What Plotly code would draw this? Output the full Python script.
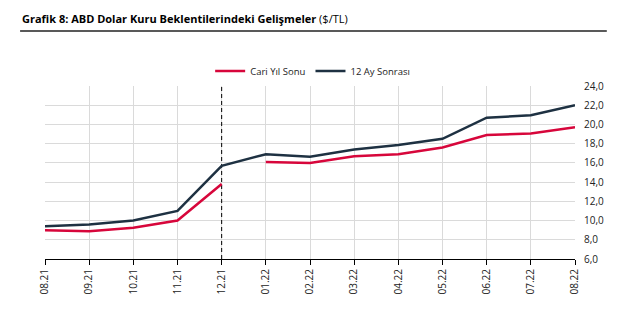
import plotly.graph_objects as go

months = ["08.21", "09.21", "10.21", "11.21", "12.21", "01.22", "02.22", "03.22",
          "04.22", "05.22", "06.22", "07.22", "08.22"]
cari_yil_sonu = [9.0, 8.9, 9.25, 10.0, 13.8, 16.1, 16.0, 16.7, 16.9, 17.6, 18.9, 19.05, 19.7]
ay12_sonrasi = [9.4, 9.6, 10.0, 11.0, 15.7, 16.9, 16.65, 17.4, 17.85, 18.5, 20.7, 20.95, 22.0]
y_ticks = [6, 8, 10, 12, 14, 16, 18, 20, 22, 24]
divider_month = "12.21"

red = "#D7063B"
dark = "#1E3142"

fig = go.Figure()
fig.add_trace(go.Scatter(x=[divider_month, divider_month], y=[y_ticks[0], y_ticks[-1]],
                         mode="lines", line=dict(color="black", width=1, dash="4px,3px"),
                         showlegend=False, hoverinfo="skip"))
fig.add_trace(go.Scatter(x=months[:5], y=cari_yil_sonu[:5], mode="lines", name="Cari Yıl Sonu",
                         line=dict(color=red, width=2.5), legendgroup="a"))
fig.add_trace(go.Scatter(x=months[5:], y=cari_yil_sonu[5:], mode="lines", name="Cari Yıl Sonu",
                         line=dict(color=red, width=2.5), legendgroup="a", showlegend=False))
fig.add_trace(go.Scatter(x=months, y=ay12_sonrasi, mode="lines", name="12 Ay Sonrası",
                         line=dict(color=dark, width=2.5)))

fig.update_layout(
    width=625, height=329,
    margin=dict(l=45, r=50, t=86, b=70),
    paper_bgcolor="white", plot_bgcolor="white",
    font=dict(family="Open Sans", size=10, color="#222"),
    separators=",.",
    showlegend=True,
    legend=dict(orientation="h", x=0.505, xanchor="center", y=1.087, yanchor="middle",
                font=dict(size=9.5), itemwidth=30),
    xaxis=dict(type="category", categoryorder="array", categoryarray=months,
               range=[-0.0001, 12.0001], showgrid=True, gridcolor="#DADADA", gridwidth=1,
               showline=True, linecolor="black", linewidth=1,
               ticks="outside", ticklen=5, tickcolor="black",
               tickangle=-90, tickfont=dict(size=10), fixedrange=True),
    yaxis=dict(side="right", range=[6, 24], tickvals=y_ticks, tickformat=".1f",
               showgrid=True, gridcolor="#DADADA", gridwidth=1, showline=False,
               zeroline=False, ticks="", ticklabelstandoff=8,
               tickfont=dict(size=10)),
    annotations=[dict(text="<b>Grafik 8: ABD Dolar Kuru Beklentilerindeki Gelişmeler</b> ($/TL)",
                      xref="paper", yref="paper", x=-0.047, y=1.393, xanchor="left",
                      yanchor="middle", showarrow=False,
                      font=dict(size=11, color="black", family="Open Sans"))],
    shapes=[
        dict(type="line", xref="paper", yref="paper", x0=-0.047, x1=1.06,
             y0=1.318, y1=1.318, line=dict(color="#222", width=1.5)),
    ],
)

fig.write_html("out.html")
